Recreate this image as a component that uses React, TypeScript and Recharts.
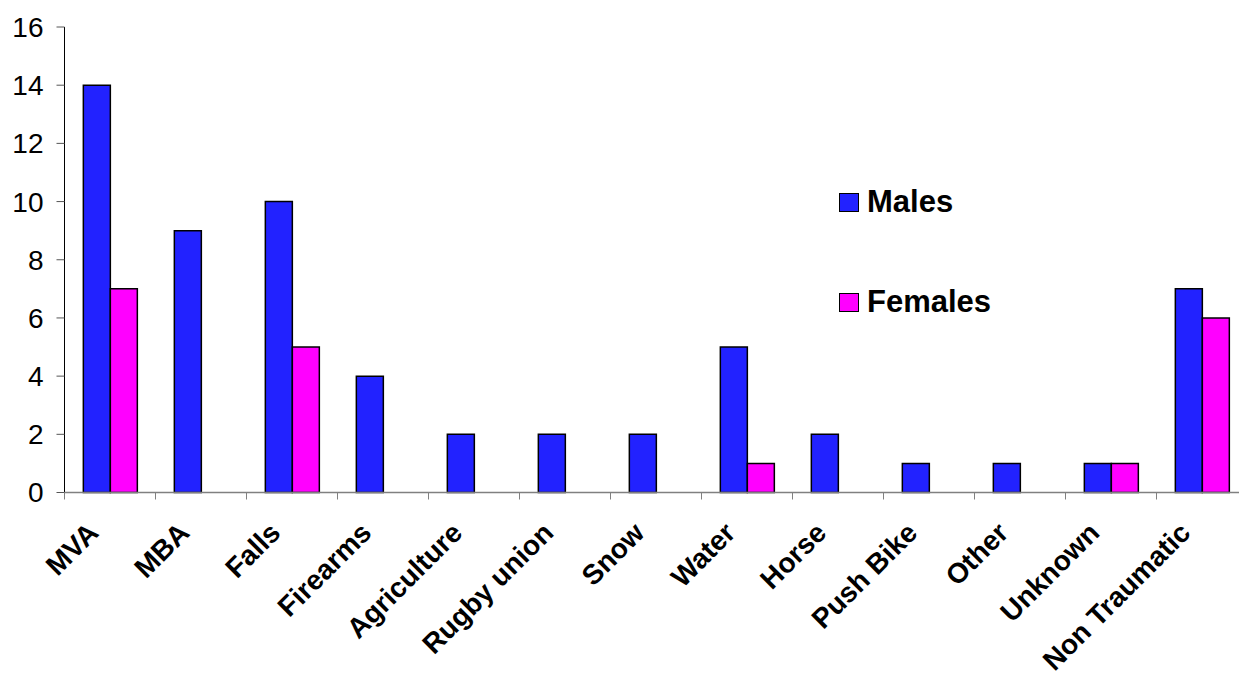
import React from 'react';
import { BarChart, Bar, XAxis, YAxis, Legend } from 'recharts';

const categories = [
    'MVA', 'MBA', 'Falls', 'Firearms', 'Agriculture', 'Rugby union', 'Snow',
    'Water', 'Horse', 'Push Bike', 'Other', 'Unknown', 'Non Traumatic',
];
const males = [14, 9, 10, 4, 2, 2, 2, 5, 2, 1, 1, 1, 7];
const females = [7, 0, 5, 0, 0, 0, 0, 1, 0, 0, 0, 1, 6];
const yTicks = [0, 2, 4, 6, 8, 10, 12, 14, 16];
const seriesOrder = ['Males', 'Females'];

const MALE_COLOR = '#2222FF';
const FEMALE_COLOR = '#FF00FF';
const FONT = 'Arial, "Liberation Sans", sans-serif';

const data = categories.map((name, i) => ({ name, Males: males[i], Females: females[i] }));

// Excel-style category ticks: the tick mark sits between categories, the label is rotated
const CategoryTick = (props: any) => {
    const { x, y, payload, index } = props;
    const half = payload?.offset ?? 45.5;
    const last = index === categories.length - 1;
    const tx = x - 10;
    const ty = y + 42;
    return (
        <g>
            <line x1={x - half} y1={y} x2={x - half} y2={y + 7} stroke="#808080" strokeWidth={1} />
            {last && <line x1={x + half} y1={y} x2={x + half} y2={y + 7} stroke="#808080" strokeWidth={1} />}
            <text
                x={tx}
                y={ty}
                transform={`rotate(-45, ${tx}, ${ty})`}
                textAnchor="end"
                fontSize={28}
                fontWeight="bold"
                fontFamily={FONT}
                fill="#000"
            >
                {payload.value}
            </text>
        </g>
    );
};

const LegendBox = ({ payload }: any) => {
    const items = [...(payload || [])].sort(
        (a: any, b: any) => seriesOrder.indexOf(a.value) - seriesOrder.indexOf(b.value)
    );
    return (
        <div style={{ fontFamily: FONT }}>
            {items.map((entry: any, i: number) => (
                <div
                    key={`legend-${i}`}
                    style={{ display: 'flex', alignItems: 'center', height: 40, marginBottom: i === 0 ? 60 : 0 }}
                >
                    <span
                        style={{
                            display: 'inline-block',
                            width: 18,
                            height: 17,
                            background: entry.color,
                            border: '1.5px solid #000',
                            marginRight: 8,
                        }}
                    />
                    <span style={{ fontSize: 31, fontWeight: 'bold', color: '#000' }}>{entry.value}</span>
                </div>
            ))}
        </div>
    );
};

export default function App() {
    return (
        <div
            style={{
                position: 'fixed',
                left: 0,
                top: 0,
                width: 1239,
                height: 677,
                overflow: 'hidden',
                background: '#fff',
                fontFamily: FONT,
            }}
        >
            <BarChart
                width={1270}
                height={677}
                data={data}
                margin={{ top: 27, right: 22.5, left: 0, bottom: 0 }}
                barCategoryGap="20.7%"
                barGap={0}
            >
                <YAxis
                    domain={[0, 16]}
                    ticks={yTicks}
                    width={64.5}
                    interval={0}
                    tickSize={8}
                    tickMargin={13}
                    axisLine={{ stroke: '#000', strokeWidth: 1 }}
                    tickLine={{ stroke: '#555', strokeWidth: 1 }}
                    tick={{ fill: '#000', fontSize: 28, fontFamily: FONT }}
                />
                <XAxis
                    dataKey="name"
                    interval={0}
                    height={184.5}
                    tickSize={0}
                    tickMargin={0}
                    tickLine={false}
                    axisLine={{ stroke: '#808080', strokeWidth: 1.5 }}
                    tick={<CategoryTick />}
                />
                <Legend
                    layout="vertical"
                    verticalAlign="middle"
                    align="center"
                    content={<LegendBox />}
                    wrapperStyle={{ left: 839, top: 182, width: 200, height: 140 }}
                />
                <Bar dataKey="Males" fill={MALE_COLOR} stroke="#000" strokeWidth={1.5} isAnimationActive={false} />
                <Bar dataKey="Females" fill={FEMALE_COLOR} stroke="#000" strokeWidth={1.5} isAnimationActive={false} />
            </BarChart>
        </div>
    );
}
